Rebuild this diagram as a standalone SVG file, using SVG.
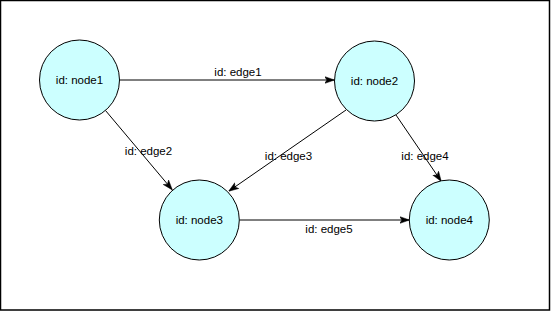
<svg xmlns="http://www.w3.org/2000/svg" width="551" height="311" viewBox="0 0 551 311">
<style>
.node{fill:#CCFFFF;stroke:#000;stroke-width:1}
.edge{fill:none;stroke:#000;stroke-width:1;marker-end:url(#arr)}
text{font-family:"Liberation Sans",Arial,Helvetica,sans-serif;font-size:11.5px;fill:#000;text-anchor:middle}
</style>
<defs>
<marker id="arr" markerWidth="10" markerHeight="8" refX="9.5" refY="4" orient="auto" markerUnits="userSpaceOnUse">
<path d="M0,0.5 L10,4 L0,7.5 L2.5,4 Z" fill="#000" stroke="#000" stroke-width="0.5"/>
</marker>
</defs>
<rect x="0.5" y="0.5" width="549" height="309.5" fill="#fff" stroke="#000" stroke-width="1.5"/>
<g id="connectors">
<g id="edge1"><path class="edge" d="M119.5,80 L334,80"/><text x="238" y="76">id: edge1</text></g>
<g id="edge2"><path class="edge" d="M105.5,110.5 L172,189.5"/><text x="148.5" y="155">id: edge2</text></g>
<g id="edge3"><path class="edge" d="M346,110 L229,191"/><text x="288.5" y="160">id: edge3</text></g>
<g id="edge4"><path class="edge" d="M396,115 L441,181"/><text x="425" y="160">id: edge4</text></g>
<g id="edge5"><path class="edge" d="M239.5,220 L409,220"/><text x="329" y="233">id: edge5</text></g>
</g>
<g id="node1"><circle class="node" cx="79.5" cy="80" r="40"/><text x="79.5" y="84">id: node1</text></g>
<g id="node2"><circle class="node" cx="374.5" cy="81" r="40"/><text x="374.5" y="85">id: node2</text></g>
<g id="node3"><circle class="node" cx="199.3" cy="220" r="40"/><text x="199.3" y="224">id: node3</text></g>
<g id="node4"><circle class="node" cx="449.3" cy="220" r="40"/><text x="449.3" y="224">id: node4</text></g>
</svg>
